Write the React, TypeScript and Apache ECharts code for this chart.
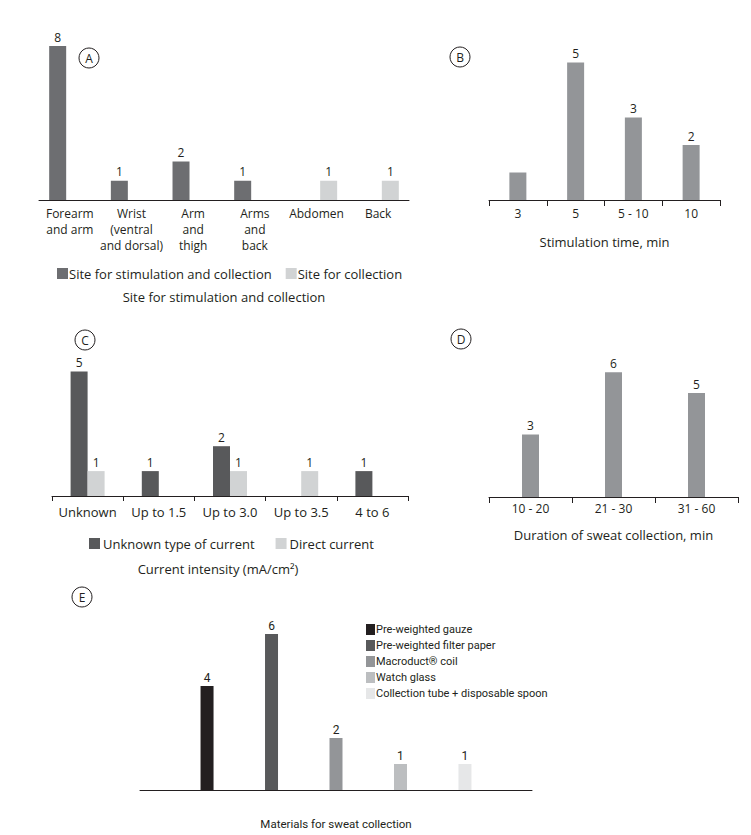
import React, { useEffect, useRef } from "react";
import * as echarts from "echarts";

const aCategories = ["Forearm\nand arm", "Wrist\n(ventral\nand dorsal)", "Arm\nand\nthigh", "Arms\nand\nback", "Abdomen", "Back"];
const aStimCollect = [8, 1, 2, 1, null, null];
const aCollect = [null, null, null, null, 1, 1];
const aSeriesNames = ["Site for stimulation and collection", "Site for collection"];

const bCategories = ["3", "5", "5 - 10", "10"];
const bValues = [1, 5, 3, 2];
const bShowLabel = [false, true, true, true];

const cCategories = ["Unknown", "Up to 1.5", "Up to 3.0", "Up to 3.5", "4 to 6"];
const cUnknown = [5, 1, 2, null, 1];
const cDirect = [1, null, 1, 1, null];
const cSeriesNames = ["Unknown type of current", "Direct current"];

const dCategories = ["10 - 20", "21 - 30", "31 - 60"];
const dValues = [3, 6, 5];

const eMaterials = [
  "Pre-weighted gauze",
  "Pre-weighted filter paper",
  "Macroduct\u00ae coil",
  "Watch glass",
  "Collection tube + disposable spoon",
];
const eValues = [4, 6, 2, 1, 1];

const FONT = "'Open Sans', 'Noto Sans', sans-serif";
const NARROW = "Roboto, 'Open Sans', sans-serif";
const TXT = "#231f20";
const eColors = ["#231f20", "#58595b", "#939598", "#bcbec0", "#e6e7e8"];

const valueLabel = {
  show: true,
  position: "top",
  distance: 3,
  color: TXT,
  fontFamily: FONT,
  fontSize: 12,
};

export default function App() {
  const ref = useRef<HTMLDivElement>(null);
  useEffect(() => {
    if (!ref.current) return;
    const chart = echarts.init(ref.current, null, { renderer: "svg" });

    const axisLineStyle = { lineStyle: { color: "#231f20", width: 1 } };
    const labelStyle = { color: TXT, fontFamily: FONT, fontSize: 12 };
    const nameStyle = { color: TXT, fontFamily: FONT, fontSize: 13 };
    const legendText = { color: TXT, fontFamily: FONT, fontSize: 13 };
    const narrowText = { color: TXT, fontFamily: NARROW, fontSize: 11 };

    const circleLabels = [
      { l: "A", x: 89, y: 58 },
      { l: "B", x: 460, y: 57 },
      { l: "C", x: 85, y: 340 },
      { l: "D", x: 461, y: 339 },
      { l: "E", x: 82, y: 597 },
    ];

    const option: any = {
      animation: false,
      backgroundColor: "#ffffff",
      textStyle: { fontFamily: FONT },
      grid: [
        { left: 39, top: 46, width: 370, height: 154 },
        { left: 489, top: 35, width: 231, height: 165 },
        { left: 52, top: 346.6, width: 356, height: 149.4 },
        { left: 489, top: 351.4, width: 249, height: 145.6 },
        { left: 140, top: 608, width: 392, height: 182 },
      ],
      xAxis: [
        {
          gridIndex: 0,
          type: "category",
          data: aCategories,
          axisLine: axisLineStyle,
          axisTick: { show: false },
          axisLabel: { ...labelStyle, interval: 0, margin: 5, lineHeight: 16 },
          name: "Site for stimulation and collection",
          nameLocation: "middle",
          nameGap: 90,
          nameTextStyle: nameStyle,
        },
        {
          gridIndex: 1,
          type: "category",
          data: bCategories,
          axisLine: axisLineStyle,
          axisTick: { show: true, length: 6, lineStyle: { color: "#231f20" } },
          axisLabel: { ...labelStyle, interval: 0, margin: 7 },
          name: "Stimulation time, min",
          nameLocation: "middle",
          nameGap: 35,
          nameTextStyle: nameStyle,
        },
        {
          gridIndex: 2,
          type: "category",
          data: cCategories,
          axisLine: axisLineStyle,
          axisTick: { show: true, length: 5, lineStyle: { color: "#231f20" } },
          axisLabel: { ...labelStyle, fontSize: 13, interval: 0, margin: 9 },
          name: "Current intensity (mA/cm\u00b2)",
          nameLocation: "middle",
          nameGap: 66,
          nameTextStyle: { ...nameStyle, padding: [0, 24, 0, 0] },
        },
        {
          gridIndex: 3,
          type: "category",
          data: dCategories,
          axisLine: axisLineStyle,
          axisTick: { show: true, length: 6, lineStyle: { color: "#231f20" } },
          axisLabel: { ...labelStyle, interval: 0, margin: 5 },
          name: "Duration of sweat collection, min",
          nameLocation: "middle",
          nameGap: 31,
          nameTextStyle: nameStyle,
        },
        {
          gridIndex: 4,
          type: "category",
          data: ["Materials"],
          axisLine: axisLineStyle,
          axisTick: { show: false },
          axisLabel: { show: false },
          name: "Materials for sweat collection",
          nameLocation: "middle",
          nameGap: 28,
          nameTextStyle: { ...narrowText, fontSize: 11.5 },
        },
      ],
      yAxis: [
        { gridIndex: 0, type: "value", min: 0, max: 8, show: false },
        { gridIndex: 1, type: "value", min: 0, max: 6, show: false },
        { gridIndex: 2, type: "value", min: 0, max: 6, show: false },
        { gridIndex: 3, type: "value", min: 0, max: 7, show: false },
        { gridIndex: 4, type: "value", min: 0, max: 7, show: false },
      ],
      legend: [
        {
          data: aSeriesNames,
          left: 57,
          top: 267,
          padding: 0,
          itemWidth: 11,
          itemHeight: 11,
          itemGap: 14,
          icon: "rect",
          textStyle: { ...legendText, padding: [0, 0, 0, -4] },
          selectedMode: false,
        },
        {
          data: cSeriesNames,
          left: 89,
          top: 537,
          padding: 0,
          itemWidth: 11,
          itemHeight: 11,
          itemGap: 21,
          icon: "rect",
          textStyle: { ...legendText, padding: [0, 0, 0, -2] },
          selectedMode: false,
        },
        {
          data: eMaterials,
          orient: "vertical",
          left: 366,
          top: 624,
          padding: 0,
          itemWidth: 9,
          itemHeight: 11,
          itemGap: 5,
          icon: "rect",
          textStyle: { ...narrowText, padding: [0, 0, 0, -4] },
          selectedMode: false,
        },
      ],
      series: [
        {
          name: aSeriesNames[0],
          type: "bar",
          xAxisIndex: 0,
          yAxisIndex: 0,
          data: aStimCollect,
          barWidth: 17,
          barGap: "43%",
          itemStyle: { color: "#6d6e71" },
          label: valueLabel,
        },
        {
          name: aSeriesNames[1],
          type: "bar",
          xAxisIndex: 0,
          yAxisIndex: 0,
          data: aCollect,
          barWidth: 17,
          barGap: "43%",
          itemStyle: { color: "#d1d3d4" },
          label: valueLabel,
        },
        {
          name: "Stimulation time",
          type: "bar",
          xAxisIndex: 1,
          yAxisIndex: 1,
          data: bValues.map((v, i) => ({ value: v, label: { show: bShowLabel[i] } })),
          barWidth: 17,
          itemStyle: { color: "#939598" },
          label: valueLabel,
        },
        {
          name: cSeriesNames[0],
          type: "bar",
          xAxisIndex: 2,
          yAxisIndex: 2,
          data: cUnknown,
          barWidth: 17,
          barGap: "0%",
          itemStyle: { color: "#58595b" },
          label: valueLabel,
        },
        {
          name: cSeriesNames[1],
          type: "bar",
          xAxisIndex: 2,
          yAxisIndex: 2,
          data: cDirect,
          barWidth: 17,
          barGap: "0%",
          itemStyle: { color: "#d1d3d4" },
          label: valueLabel,
        },
        {
          name: "Duration",
          type: "bar",
          xAxisIndex: 3,
          yAxisIndex: 3,
          data: dValues,
          barWidth: 17,
          itemStyle: { color: "#939598" },
          label: valueLabel,
        },
        ...eMaterials.map((m, i) => ({
          name: m,
          type: "bar",
          xAxisIndex: 4,
          yAxisIndex: 4,
          data: [eValues[i]],
          barWidth: 13,
          barGap: "396%",
          itemStyle: { color: eColors[i] },
          label: { ...valueLabel, fontFamily: NARROW, fontSize: 12, distance: 2 },
        })),
      ],
      graphic: circleLabels.flatMap((c) => [
        {
          type: "circle",
          shape: { cx: c.x, cy: c.y, r: 10 },
          style: { fill: "none", stroke: "#231f20", lineWidth: 1 },
          silent: true,
        },
        {
          type: "text",
          x: c.x,
          y: c.y,
          style: {
            text: c.l,
            fill: TXT,
            fontFamily: FONT,
            fontSize: 12,
            align: "center",
            verticalAlign: "middle",
          },
          silent: true,
        },
      ]),
    };

    chart.setOption(option);
    return () => chart.dispose();
  }, []);

  return (
    <div
      ref={ref}
      style={{ position: "absolute", left: 0, top: 0, width: 751, height: 835, background: "#fff" }}
    />
  );
}
